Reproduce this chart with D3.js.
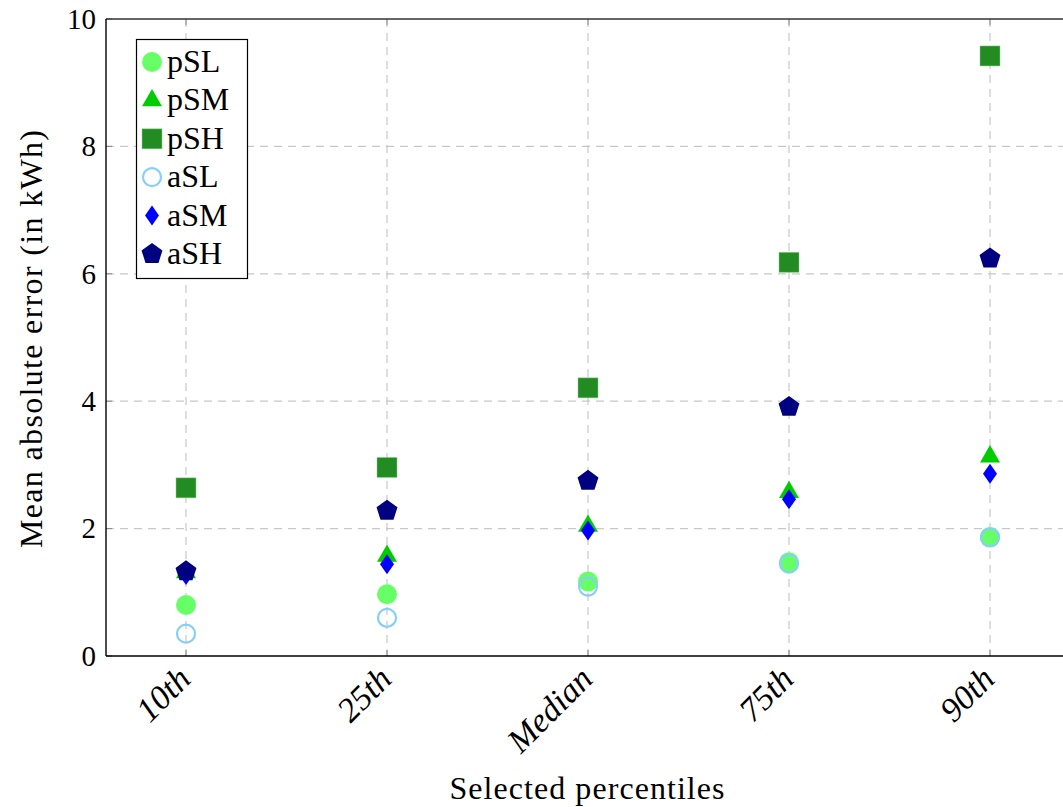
<!DOCTYPE html>
<html><head><meta charset="utf-8">
<script src="https://cdn.jsdelivr.net/npm/d3@7"></script>
<style>body{margin:0;background:#fff}svg{display:block}</style>
</head><body>
<script>
const categories = ["10th","25th","Median","75th","90th"];
const pSL = [0.80, 0.97, 1.17, 1.47, 1.87];
const pSM = [1.31, 1.57, 2.04, 2.57, 3.13];
const pSH = [2.64, 2.96, 4.21, 6.18, 9.42];
const aSL = [0.35, 0.60, 1.09, 1.45, 1.86];
const aSM = [1.27, 1.44, 1.97, 2.46, 2.86];
const aSH = [1.33, 2.28, 2.75, 3.91, 6.24];
const yTicks = [0,2,4,6,8,10];
const seriesNames = ["pSL","pSM","pSH","aSL","aSM","aSH"];
const seriesVals = [pSL,pSM,pSH,aSL,aSM,aSH];

const W = 1063, H = 807;
const L = 106, T = 19, B = 656, R = 1100;
const serif = "'Liberation Serif','DejaVu Serif',serif";
const svg = d3.select("body").append("svg").attr("width",W).attr("height",H);

const x = d3.scalePoint().domain(categories).range([186, 990]);
const y = d3.scaleLinear().domain([0,10]).range([B, T]);

// grid
const g = svg.append("g");
g.selectAll(".gx").data(categories).enter().append("line")
  .attr("x1",d=>x(d)).attr("x2",d=>x(d)).attr("y1",T).attr("y2",B)
  .attr("stroke","#c8c8c8").attr("stroke-width",1.2).attr("stroke-dasharray","8,6");
g.selectAll(".gy").data(yTicks.slice(1,-1)).enter().append("line")
  .attr("x1",L).attr("x2",R).attr("y1",d=>y(d)).attr("y2",d=>y(d))
  .attr("stroke","#c8c8c8").attr("stroke-width",1.2).attr("stroke-dasharray","8,6");

// axes
const yAxis = d3.axisLeft(y).tickValues(yTicks).tickSize(0).tickPadding(10);
const ya = svg.append("g").attr("transform",`translate(${L},0)`).call(yAxis);
ya.select(".domain").remove();
ya.selectAll("text").attr("font-family",serif).attr("font-size",29).attr("fill","#000");

const xAxis = d3.axisBottom(x).tickSize(0).tickPadding(0);
const xa = svg.append("g").attr("transform",`translate(0,${B})`).call(xAxis);
xa.select(".domain").remove();
xa.selectAll("text").attr("font-family",serif).attr("font-size",34).attr("font-style","italic")
  .attr("fill","#000").attr("text-anchor","end").attr("dy",null).attr("y",0)
  .attr("transform","translate(6,25) rotate(-45)");

// ticks inside
svg.selectAll(".tb").data(categories).enter().append("line")
  .attr("x1",d=>x(d)).attr("x2",d=>x(d)).attr("y1",B).attr("y2",B-6).attr("stroke","#888").attr("stroke-width",1);
svg.selectAll(".tt").data(categories).enter().append("line")
  .attr("x1",d=>x(d)).attr("x2",d=>x(d)).attr("y1",T).attr("y2",T+6).attr("stroke","#888").attr("stroke-width",1);
svg.selectAll(".tl").data(yTicks).enter().append("line")
  .attr("x1",L).attr("x2",L+6).attr("y1",d=>y(d)).attr("y2",d=>y(d)).attr("stroke","#888").attr("stroke-width",1);

// frame
svg.append("line").attr("x1",L).attr("x2",R).attr("y1",B).attr("y2",B).attr("stroke","#000").attr("stroke-width",1.4);
svg.append("line").attr("x1",L).attr("x2",R).attr("y1",T).attr("y2",T).attr("stroke","#333").attr("stroke-width",1.4);
svg.append("line").attr("x1",L).attr("x2",L).attr("y1",T).attr("y2",B).attr("stroke","#000").attr("stroke-width",1.4);

// markers
function pentagon(r){
  const pts=[];
  for(let i=0;i<5;i++){const a=-Math.PI/2+i*2*Math.PI/5;pts.push([r*Math.cos(a),r*Math.sin(a)]);}
  return "M"+pts.map(p=>p.join(",")).join("L")+"Z";
}
const styles = [
  {path:d3.symbol(d3.symbolCircle, Math.PI*10*10)(), fill:"#66ff66", stroke:"none"},
  {path:"M0,-11.5L10,5.8L-10,5.8Z", fill:"#00cc00", stroke:"none"},
  {path:"M-10,-10H10V10H-10Z", fill:"#228b22", stroke:"#8fcf8f", sw:0.5},
  {path:d3.symbol(d3.symbolCircle, Math.PI*9*9)(), fill:"none", stroke:"#87cefa", sw:2.2},
  {path:"M0,-10L7,0L0,10L-7,0Z", fill:"#0000ff", stroke:"none"},
  {path:pentagon(11), fill:"#000080", stroke:"none"}
];

seriesVals.forEach((vals,si)=>{
  const st = styles[si];
  svg.append("g").selectAll("path").data(vals).enter().append("path")
    .attr("d",st.path)
    .attr("transform",(d,i)=>`translate(${x(categories[i])},${y(d)})`)
    .attr("fill",st.fill).attr("stroke",st.stroke).attr("stroke-width",st.sw||0);
});

// legend
const lg = svg.append("g");
lg.append("rect").attr("x",136.5).attr("y",39.5).attr("width",111).attr("height",239)
  .attr("fill","#fff").attr("stroke","#000").attr("stroke-width",1.2);
seriesNames.forEach((n,i)=>{
  const cy = 62 + i*38.4;
  const st = styles[i];
  lg.append("path").attr("d",st.path).attr("transform",`translate(152,${cy})`)
    .attr("fill",st.fill).attr("stroke",st.stroke).attr("stroke-width",st.sw||0);
  lg.append("text").attr("x",167).attr("y",cy+10).text(n)
    .attr("font-family",serif).attr("font-size",32).attr("fill","#000");
});

// axis titles
svg.append("text").attr("x",587).attr("y",799).attr("text-anchor","middle")
  .attr("font-family",serif).attr("font-size",32).attr("fill","#000")
  .attr("textLength",275).attr("lengthAdjust","spacing").text("Selected percentiles");
svg.append("text").attr("transform","translate(42,339) rotate(-90)").attr("text-anchor","middle")
  .attr("font-family",serif).attr("font-size",32).attr("fill","#000")
  .attr("textLength",418).attr("lengthAdjust","spacing").text("Mean absolute error (in kWh)");
</script>
</body></html>
